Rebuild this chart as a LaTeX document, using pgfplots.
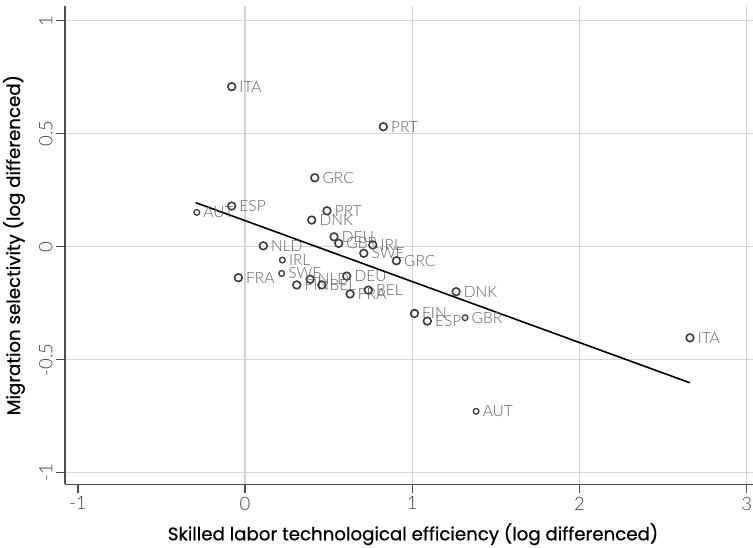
\documentclass[border=0pt]{standalone}
\usepackage{pgfplots}
\usepackage{pgfplotstable}
\pgfplotsset{compat=1.18}
\usepackage{fontspec}
\setmainfont{Lato}
\newfontfamily\lightfont{Lato Light}
\newfontfamily\titlefont{Poppins}[FakeBold=0.6]
\definecolor{gridgray}{HTML}{D4D4D4}
\definecolor{axisgray}{HTML}{4D4D4D}
\definecolor{markgray}{HTML}{3C3C3C}
\definecolor{labgray}{HTML}{606060}
\definecolor{tickgray}{HTML}{404040}

\pgfplotstableread{
x y lab
-0.080 0.180 ESP
0.490 0.159 PRT
0.399 0.118 DNK
0.532 0.044 DEU
0.560 0.015 GBR
0.764 0.008 IRL
0.710 -0.029 SWE
0.905 -0.062 GRC
0.109 0.004 NLD
-0.040 -0.137 FRA
0.389 -0.144 NLD
0.608 -0.130 DEU
0.309 -0.169 FIN
0.459 -0.169 BEL
0.628 -0.209 FRA
0.737 -0.192 BEL
1.262 -0.199 DNK
1.013 -0.295 FIN
1.090 -0.329 ESP
-0.080 0.708 ITA
0.827 0.531 PRT
0.417 0.305 GRC
2.661 -0.403 ITA
}\normalpts

\pgfplotstableread{
x y lab
-0.289 0.152 AUT
0.223 -0.059 IRL
0.219 -0.118 SWE
1.316 -0.314 GBR
1.382 -0.728 AUT
}\smallpts

\begin{document}
\begin{tikzpicture}
\path[use as bounding box] (-65pt,-62.7pt) rectangle (688pt,484.3pt);
\begin{axis}[
  at={(0pt,0pt)}, anchor=south west,
  scale only axis, width=688pt, height=478.3pt,
  xmin=-1.077, xmax=3.038, ymin=-1.051, ymax=1.065,
  axis x line*=bottom, axis y line*=left,
  axis line style={axisgray, line width=1.4pt},
  xtick={-1,0,1,2,3}, xticklabels={-1,0,1,2,3},
  ytick={-1,-0.5,0,0.5,1}, yticklabels={-1,-0.5,0,0.5,1},
  ymajorgrids,
  major grid style={gridgray, line width=1.2pt},
  tick align=outside, major tick length=9pt,
  tick style={axisgray, line width=1.3pt},
  ticklabel style={font=\lightfont\fontsize{18.5}{20}\selectfont, text=tickgray},
  yticklabel style={rotate=90, anchor=south},
  xticklabel style={anchor=north},
  xlabel={Skilled labor technological efficiency (log differenced)},
  ylabel={Migration selectivity (log differenced)},
  every axis x label/.style={at={(axis description cs:0.5,0)}, anchor=base, xshift=4pt, yshift=-56pt,
    font=\titlefont\fontsize{18.2}{20}\selectfont, text=black},
  every axis y label/.style={at={(axis description cs:-0.0654,0.5)}, rotate=90, anchor=base,
    font=\titlefont\fontsize{18.2}{20}\selectfont, text=black},
  clip=false,
]
\draw[gridgray, line width=1.2pt] (axis cs:0,-1.051) -- (axis cs:0,1.065);
\draw[gridgray, line width=1.2pt] (axis cs:1,-1.051) -- (axis cs:1,1.065);
\draw[gridgray, line width=1.2pt] (axis cs:2,-1.051) -- (axis cs:2,1.065);
\draw[gridgray, line width=1.2pt] (axis cs:3,-1.051) -- (axis cs:3,1.065);
\addplot[markgray, only marks, mark=o, mark size=3.85pt, mark options={draw=markgray, line width=1.6pt},
  nodes near coords, point meta=explicit symbolic,
  every node near coord/.append style={anchor=west, inner sep=0pt, xshift=7pt,
    font=\lightfont\fontsize{15.5}{16}\selectfont, text=labgray}]
  table[x=x, y=y, meta=lab]{\normalpts};
\addplot[markgray, only marks, mark=o, mark size=2.85pt, mark options={draw=markgray, line width=1.3pt},
  nodes near coords, point meta=explicit symbolic,
  every node near coord/.append style={anchor=west, inner sep=0pt, xshift=6pt,
    font=\lightfont\fontsize{15.5}{16}\selectfont, text=labgray}]
  table[x=x, y=y, meta=lab]{\smallpts};
\addplot[black, line width=1.6pt, no marks] coordinates {(-0.295,0.195) (2.661,-0.602)};
\end{axis}
\end{tikzpicture}
\end{document}
